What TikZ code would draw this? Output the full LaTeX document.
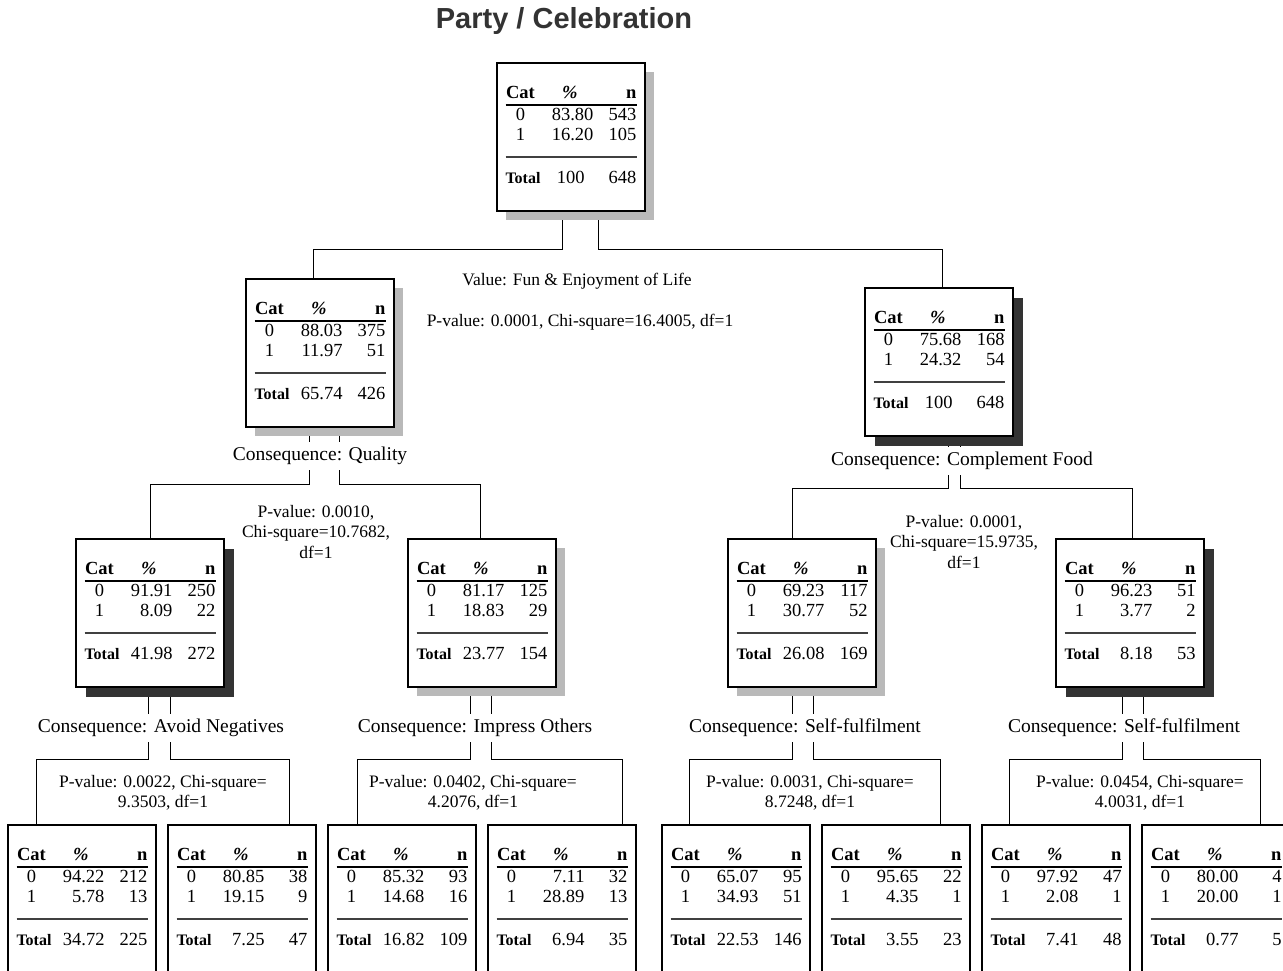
\documentclass[tikz,border=0pt]{standalone}
\usepackage{fontspec}
\setmainfont{Liberation Serif}
\newfontfamily\titlefont{Liberation Sans}
\usepackage{array}
\usepackage{tikz}
\usetikzlibrary{positioning,shadows,backgrounds}
\tikzset{node distance=160pt}

\newcommand{\cattable}[6]{%
  \begin{tabular}{@{}>{\centering}p{30pt}@{}>{\raggedleft}p{58pt}@{}>{\raggedleft\arraybackslash}p{43pt}@{}}
    \textbf{Cat} & \textbf{\textit{\%}}\hspace*{16pt} & \textbf{n}\\
    \noalign{\hrule height 2pt}
    0 & #1 & #2\\
    1 & #3 & #4\\
    \noalign{\vskip 10pt{\color{darkgray}\hrule height 1.5pt}\vskip 12pt}
    \fontsize{16}{16}\selectfont\bfseries Total & #5 & #6
  \end{tabular}}

\tikzset{
  catbox/.style={draw, line width=2.4pt, fill=white, minimum width=148pt, minimum height=148pt, inner sep=0pt, font=\fontsize{18.5}{20}\selectfont},
  lightshadow/.style={drop shadow={shadow xshift=9pt, shadow yshift=-9pt, fill=gray!55, opacity=1}},
  darkshadow/.style={drop shadow={shadow xshift=10pt, shadow yshift=-10pt, fill=black!80, opacity=1}},
  split/.style={font=\fontsize{19.5}{22}\selectfont, fill=white, inner xsep=2pt, inner ysep=5pt},
  stat/.style={font=\fontsize{17.5}{20.5}\selectfont, align=center},
}

\begin{document}
\begin{tikzpicture}[x=1pt, y=-1pt, line width=1.6pt]
	\path[use as bounding box, clip] (0,0) rectangle (1283,971);
	\node(title) at (564,21) [font=\titlefont\bfseries\fontsize{29}{32}\selectfont, text=black!80]{Party / Celebration};
	% the tree
	\node(root) at (571,137) [catbox, lightshadow]{\cattable{83.80}{543}{16.20}{105}{100\hspace*{9pt}}{648}};
	\node(qual) at (320,353) [catbox, lightshadow]{\cattable{88.03}{375}{11.97}{51}{65.74}{426}};
	\node(food) at (939,362) [catbox, darkshadow]{\cattable{75.68}{168}{24.32}{54}{100\hspace*{9pt}}{648}};
	\node(nega) at (150,613) [catbox, darkshadow]{\cattable{91.91}{250}{8.09}{22}{41.98}{272}};
	\node(impr) at (482,613) [catbox, lightshadow]{\cattable{81.17}{125}{18.83}{29}{23.77}{154}};
	\node(selfa) at (802,613) [catbox, lightshadow]{\cattable{69.23}{117}{30.77}{52}{26.08}{169}};
	\node(selfb) at (1130,613) [catbox, darkshadow]{\cattable{96.23}{51}{3.77}{2}{8.18}{53}};
	% leaves
	\node(leafa) at (82,824) [catbox, anchor=north]{\cattable{94.22}{212}{5.78}{13}{34.72}{225}};
	\node(leafb) [catbox, right of=leafa]{\cattable{80.85}{38}{19.15}{9}{7.25}{47}};
	\node(leafc) [catbox, right of=leafb]{\cattable{85.32}{93}{14.68}{16}{16.82}{109}};
	\node(leafd) [catbox, right of=leafc]{\cattable{7.11}{32}{28.89}{13}{6.94}{35}};
	\node(leafe) at (736,824) [catbox, anchor=north]{\cattable{65.07}{95}{34.93}{51}{22.53}{146}};
	\node(leaff) [catbox, right of=leafe]{\cattable{95.65}{22}{4.35}{1}{3.55}{23}};
	\node(leafg) [catbox, right of=leaff]{\cattable{97.92}{47}{2.08}{1}{7.41}{48}};
	\node(leafh) [catbox, right of=leafg]{\cattable{80.00}{4}{20.00}{1}{0.77}{5}};
	% split labels
	\node(valroot) at (577,281) [stat]{Value: Fun \& Enjoyment of Life};
	\node(proot) at (580,322) [stat]{P-value: 0.0001, Chi-square=16.4005, df=1};
	\node(qlab) at (320,456) [split]{Consequence: Quality};
	\node(pqual) at (316,532) [stat]{P-value: 0.0010,\\Chi-square=10.7682,\\df=1};
	\node(flab) at (962,461) [split]{Consequence: Complement Food};
	\node(pfood) at (964,542) [stat]{P-value: 0.0001,\\Chi-square=15.9735,\\df=1};
	\node(nlab) at (161,728) [split]{Consequence: Avoid Negatives};
	\node(pnega) at (163,793) [stat]{P-value: 0.0022, Chi-square=\\9.3503, df=1};
	\node(ilab) at (475,728) [split]{Consequence: Impress Others};
	\node(pimpr) at (473,793) [stat]{P-value: 0.0402, Chi-square=\\4.2076, df=1};
	\node(salab) at (805,728) [split]{Consequence: Self-fulfilment};
	\node(psa) at (810,793) [stat]{P-value: 0.0031, Chi-square=\\8.7248, df=1};
	\node(sblab) at (1124,728) [split]{Consequence: Self-fulfilment};
	\node(psb) at (1140,793) [stat]{P-value: 0.0454, Chi-square=\\4.0031, df=1};
	% connectors
	\begin{scope}[on background layer]
		\draw([xshift=-9pt]root.south) -- ++(0,37) -| ([xshift=-7pt]qual.north);
		\draw([xshift=27pt]root.south) -- ++(0,37) -| ([xshift=3pt]food.north);
		\draw([xshift=-11pt]qual.south) -- ++(0,56) -| (nega.north);
		\draw([xshift=19pt]qual.south) -- ++(0,56) -| ([xshift=-2pt]impr.north);
		\draw([xshift=9pt]food.south) -- ++(0,51) -| ([xshift=-10pt]selfa.north);
		\draw([xshift=21pt]food.south) -- ++(0,51) -| ([xshift=2pt]selfb.north);
		\draw([xshift=-2pt]nega.south) -- ++(0,71) -| ([xshift=-46pt]leafa.north);
		\draw([xshift=20pt]nega.south) -- ++(0,71) -| ([xshift=47pt]leafb.north);
		\draw([xshift=-12pt]impr.south) -- ++(0,71) -| ([xshift=-45pt]leafc.north);
		\draw([xshift=9pt]impr.south) -- ++(0,71) -| ([xshift=60pt]leafd.north);
		\draw([xshift=-10pt]selfa.south) -- ++(0,71) -| ([xshift=-47pt]leafe.north);
		\draw([xshift=11pt]selfa.south) -- ++(0,71) -| ([xshift=44pt]leaff.north);
		\draw([xshift=-8pt]selfb.south) -- ++(0,71) -| ([xshift=-47pt]leafg.north);
		\draw([xshift=13pt]selfb.south) -- ++(0,71) -| ([xshift=44pt]leafh.north);
	\end{scope}
\end{tikzpicture}
\end{document}
